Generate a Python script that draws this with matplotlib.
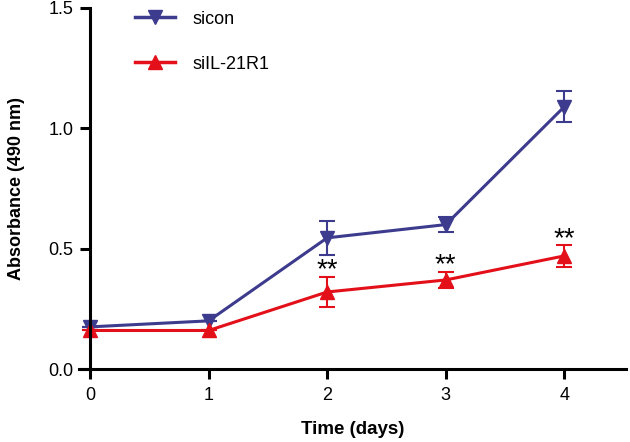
import matplotlib
matplotlib.use("Agg")
import matplotlib.pyplot as plt
from matplotlib.lines import Line2D

plt.rcParams['font.family'] = ['Liberation Sans', 'DejaVu Sans']

days = [0, 1, 2, 3, 4]
sicon = [0.175, 0.20, 0.545, 0.60, 1.09]
sicon_err = [0.0, 0.0, 0.072, 0.03, 0.065]
sil = [0.16, 0.16, 0.32, 0.37, 0.47]
sil_err = [0.0, 0.0, 0.063, 0.035, 0.045]
sig_days = [2, 3, 4]
xticks = [0, 1, 2, 3, 4]
yticks = [0.0, 0.5, 1.0, 1.5]
ytick_labels = ['0.0', '0.5', '1.0', '1.5']

blue = '#3D3B8E'
red = '#E3101A'

fig = plt.figure(figsize=(6.3, 4.42), dpi=100)
ax = fig.add_axes([79/630, (442-369)/442, 547/630, 361/442])

ax.errorbar(days, sicon, yerr=sicon_err, color=blue, marker='v', markersize=10,
            lw=2.2, capsize=6, capthick=1.5, elinewidth=1.5, clip_on=False)
ax.errorbar(days, sil, yerr=sil_err, color=red, marker='^', markersize=10,
            lw=2.2, capsize=6, capthick=1.5, elinewidth=1.5, clip_on=False)

for d in sig_days:
    i = days.index(d)
    ax.annotate('**', (d, sil[i] + sil_err[i]), xytext=(0, -0.5),
                textcoords='offset points', ha='center', va='baseline',
                fontsize=20, color='black')

ax.set_xlim(-0.093, 4.52)
ax.set_ylim(0, 1.5)
ax.spines['left'].set_position(('data', 0))
ax.spines['right'].set_visible(False)
ax.spines['top'].set_visible(False)
for s in ['left', 'bottom']:
    ax.spines[s].set_linewidth(2.2)
ax.set_xticks(xticks)
ax.set_yticks(yticks)
ax.set_yticklabels(ytick_labels)
ax.tick_params(direction='out', length=7, width=2.2, labelsize=13, pad=5)
ax.tick_params(axis='x', pad=6)
ax.set_xlabel('Time (days)', fontsize=13.5, fontweight='bold', labelpad=12)
ax.set_ylabel('Absorbance (490 nm)', fontsize=13, fontweight='bold')
ax.yaxis.set_label_coords((25 - 79) / 547, 0.5)

handles = [Line2D([], [], color=blue, marker='v', markersize=10, lw=2.5),
           Line2D([], [], color=red, marker='^', markersize=10, lw=2.5)]
ax.legend(handles, ['sicon', 'siIL-21R1'], loc='upper left',
          bbox_to_anchor=((135-79)/547, 0.993), frameon=False, borderpad=0,
          borderaxespad=0, fontsize=13, handlelength=2.2, labelspacing=1.55,
          handletextpad=1.0)
fig.savefig('out.png', dpi=100)
